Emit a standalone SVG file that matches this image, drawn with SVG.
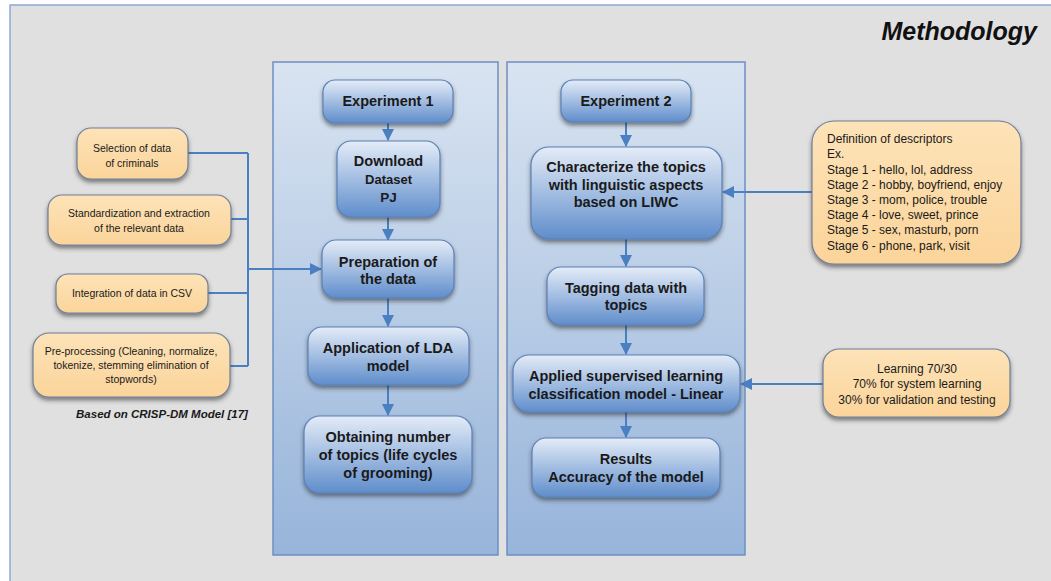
<svg xmlns="http://www.w3.org/2000/svg" width="1051" height="581" viewBox="0 0 1051 581">
<defs>
<linearGradient id="gPanel" x1="0" y1="0" x2="0" y2="1">
<stop offset="0" stop-color="#d9e4f1"/>
<stop offset="1" stop-color="#97b4da"/>
</linearGradient>
<linearGradient id="gBlue" x1="0" y1="0" x2="0" y2="1">
<stop offset="0" stop-color="#e4ecf7"/>
<stop offset="0.45" stop-color="#a9c2e4"/>
<stop offset="1" stop-color="#5f8dcb"/>
</linearGradient>
<linearGradient id="gOrange" x1="0" y1="0" x2="0" y2="1">
<stop offset="0" stop-color="#fde3b8"/>
<stop offset="1" stop-color="#fbd49a"/>
</linearGradient>
<filter id="shadow" x="-10%" y="-10%" width="120%" height="135%">
<feDropShadow dx="0" dy="3" stdDeviation="2" flood-color="#2a2a2a" flood-opacity="0.55"/>
</filter>
<marker id="arr" markerUnits="userSpaceOnUse" markerWidth="12" markerHeight="12" viewBox="0 0 12 12" refX="11" refY="6" orient="auto">
<path d="M0,0 L12,6 L0,12 z" fill="#4a7fc1"/>
</marker>
<style>
.panel{fill:url(#gPanel);stroke:#6d8fc2;stroke-width:1.5}
.bbox{fill:url(#gBlue);stroke:#5a80b8;stroke-width:1.2;filter:url(#shadow)}
.obox{fill:url(#gOrange);stroke:#6f7f99;stroke-width:1.2;filter:url(#shadow)}
.bt{font-family:"Liberation Sans",Arial,sans-serif;font-weight:bold;font-size:14.5px;fill:#1a1a1a;text-anchor:middle}
.ot{font-family:"Liberation Sans",Arial,sans-serif;font-size:10.5px;fill:#1a1a1a;text-anchor:middle}
.rt{font-family:"Liberation Sans",Arial,sans-serif;font-size:12px;fill:#1a1a1a}
.conn{fill:none;stroke:#4a7fc1;stroke-width:2}
</style>
</defs>

<rect x="0" y="0" width="1051" height="581" fill="#ffffff"/>
<rect id="frame" x="10" y="5" width="1050" height="590" fill="#e0e0e0" stroke="#8fa9d0" stroke-width="1.5"/>
<text x="1037" y="40" font-family="Liberation Sans,Arial,sans-serif" font-weight="bold" font-style="italic" font-size="25px" fill="#111" text-anchor="end">Methodology</text>

<rect id="panel1" class="panel" x="273" y="62" width="225" height="493"/>
<rect id="panel2" class="panel" x="507" y="62" width="238" height="493"/>

<g id="connectors">
<path class="conn" d="M188,153 H248 M231,219 H248 M208,293 H248 M230,366 H248 M248,153 V366"/>
<path class="conn" d="M248,269 H321" marker-end="url(#arr)"/>
<path class="conn" d="M388,123 V140" marker-end="url(#arr)"/>
<path class="conn" d="M388,217 V240" marker-end="url(#arr)"/>
<path class="conn" d="M388,298 V326" marker-end="url(#arr)"/>
<path class="conn" d="M388,385 V415" marker-end="url(#arr)"/>
<path class="conn" d="M626,122 V146" marker-end="url(#arr)"/>
<path class="conn" d="M626,239 V266" marker-end="url(#arr)"/>
<path class="conn" d="M626,325 V354" marker-end="url(#arr)"/>
<path class="conn" d="M626,412 V437" marker-end="url(#arr)"/>
<path class="conn" d="M812,192 H723" marker-end="url(#arr)"/>
<path class="conn" d="M823,384 H741" marker-end="url(#arr)"/>
</g>

<g id="sel">
<rect class="obox" x="77" y="128" width="111" height="51" rx="14"/>
<text class="ot" x="132" y="152">Selection of data</text>
<text class="ot" x="132" y="167">of criminals</text>
</g>
<g id="std">
<rect class="obox" x="48" y="195" width="183" height="50" rx="14"/>
<text class="ot" x="139" y="217">Standardization and extraction</text>
<text class="ot" x="139" y="232">of the relevant data</text>
</g>
<g id="integ">
<rect class="obox" x="56" y="274" width="152" height="39" rx="12"/>
<text class="ot" x="132" y="297">Integration of data in CSV</text>
</g>
<g id="prep-left">
<rect class="obox" x="33" y="333" width="197" height="64" rx="16"/>
<text class="ot" x="131" y="355">Pre-processing (Cleaning, normalize,</text>
<text class="ot" x="131" y="369">tokenize, stemming elimination of</text>
<text class="ot" x="131" y="383">stopwords)</text>
</g>
<text x="162" y="418" font-family="Liberation Sans,Arial,sans-serif" font-weight="bold" font-style="italic" font-size="11.5px" fill="#1a1a1a" text-anchor="middle">Based on CRISP-DM Model [17]</text>

<g id="exp1">
<rect class="bbox" x="323" y="80" width="130" height="43" rx="12"/>
<text class="bt" x="388" y="106">Experiment  1</text>
</g>
<g id="download">
<rect class="bbox" x="337" y="141" width="103" height="76" rx="14"/>
<text class="bt" x="388.5" y="166">Download</text>
<text class="bt" x="388.5" y="184" style="font-size:13px">Dataset</text>
<text class="bt" x="388.5" y="202" style="font-size:13.5px">PJ</text>
</g>
<g id="prep">
<rect class="bbox" x="322" y="240" width="132" height="58" rx="14"/>
<text class="bt" x="388" y="267">Preparation of</text>
<text class="bt" x="388" y="284">the data</text>
</g>
<g id="lda">
<rect class="bbox" x="308" y="327" width="161" height="58" rx="14"/>
<text class="bt" x="388" y="353">Application of LDA</text>
<text class="bt" x="388" y="371">model</text>
</g>
<g id="obtain">
<rect class="bbox" x="304" y="416" width="168" height="77" rx="16"/>
<text class="bt" x="388" y="442">Obtaining number</text>
<text class="bt" x="388" y="460">of topics (life cycles</text>
<text class="bt" x="388" y="478">of grooming)</text>
</g>

<g id="exp2">
<rect class="bbox" x="561" y="80" width="130" height="42" rx="12"/>
<text class="bt" x="626" y="106">Experiment  2</text>
</g>
<g id="char">
<rect class="bbox" x="531" y="147" width="191" height="92" rx="18"/>
<text class="bt" x="626" y="172">Characterize the topics</text>
<text class="bt" x="626" y="190">with linguistic aspects</text>
<text class="bt" x="626" y="207">based on LIWC</text>
</g>
<g id="tag">
<rect class="bbox" x="547" y="267" width="157" height="58" rx="14"/>
<text class="bt" x="626" y="293">Tagging data with</text>
<text class="bt" x="626" y="310">topics</text>
</g>
<g id="applied">
<rect class="bbox" x="513" y="355" width="227" height="57" rx="16"/>
<text class="bt" x="626" y="381">Applied supervised learning</text>
<text class="bt" x="626" y="399">classification model - Linear</text>
</g>
<g id="results">
<rect class="bbox" x="532" y="438" width="188" height="59" rx="14"/>
<text class="bt" x="626" y="464">Results</text>
<text class="bt" x="626" y="482">Accuracy of the model</text>
</g>

<g id="descriptors">
<rect class="obox" x="812" y="121" width="209" height="143" rx="22"/>
<text class="rt" x="827" y="143">Definition of descriptors</text>
<text class="rt" x="827" y="158">Ex.</text>
<text class="rt" x="827" y="174">Stage 1 -  hello, lol, address</text>
<text class="rt" x="827" y="189">Stage 2 -  hobby, boyfriend, enjoy</text>
<text class="rt" x="827" y="204">Stage 3 -  mom, police, trouble</text>
<text class="rt" x="827" y="219">Stage 4 - love, sweet, prince</text>
<text class="rt" x="827" y="234">Stage 5 - sex, masturb, porn</text>
<text class="rt" x="827" y="250">Stage 6  - phone, park, visit</text>
</g>
<g id="learning">
<rect class="obox" x="823" y="349" width="187" height="68" rx="16"/>
<text class="rt" x="917" y="373" text-anchor="middle">Learning 70/30</text>
<text class="rt" x="917" y="388" text-anchor="middle">70% for system learning</text>
<text class="rt" x="917" y="404" text-anchor="middle">30% for validation and testing</text>
</g>
</svg>
